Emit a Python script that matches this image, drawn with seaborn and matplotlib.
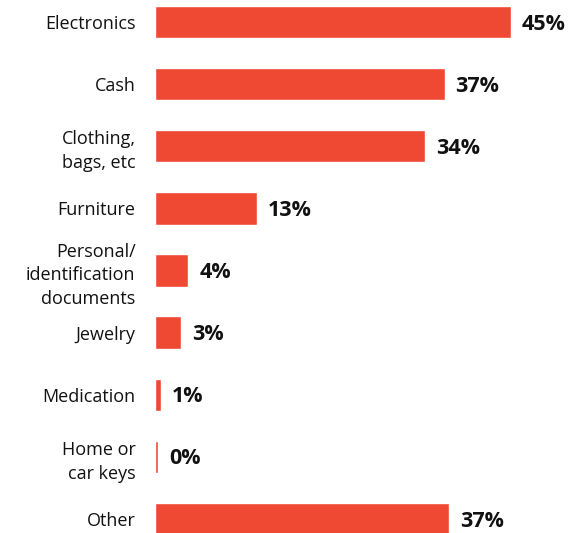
import matplotlib
matplotlib.use("Agg")
import matplotlib.pyplot as plt
import seaborn as sns
import pandas as pd

categories = ["Electronics", "Cash", "Clothing,\nbags, etc", "Furniture",
              "Personal/\nidentification\ndocuments", "Jewelry", "Medication",
              "Home or\ncar keys", "Other"]
shares = [45, 36.6, 34.1, 12.9, 4.2, 3.3, 0.7, 0.4, 37.2]

bar_color = "#EF4934"

sns.set_theme(style="white")
plt.rcParams["font.family"] = ["Open Sans", "DejaVu Sans"]

df = pd.DataFrame({"item": categories, "share": shares})

fig = plt.figure(figsize=(5.7, 5.33), dpi=100)
ax = fig.add_axes([155 / 570, 0.0, (565 - 155) / 570, 1.0])

sns.barplot(data=df, x="share", y="item", orient="h", color=bar_color,
            width=0.52, saturation=1, ax=ax)

ax.set_xlim(0, 410 / 7.91)
ax.set_ylim(8 + 14 / 62.1, -22 / 62.1)

for patch, val in zip(ax.patches, shares):
    y = patch.get_y() + patch.get_height() / 2
    ax.annotate(f"{round(val):.0f}%", xy=(patch.get_width(), y),
                xytext=(8, -1.5), textcoords="offset points",
                ha="left", va="center", fontsize=15.5, fontweight="bold",
                color="#111111")

ax.set_xlabel("")
ax.set_ylabel("")
ax.set_xticks([])
ax.tick_params(axis="y", length=0, pad=14, labelsize=13)
for lbl in ax.get_yticklabels():
    lbl.set_color("#111111")
    lbl.set_horizontalalignment("right")
    lbl.set_multialignment("right")
    lbl.set_linespacing(1.42)
for s in ax.spines.values():
    s.set_visible(False)

fig.savefig("out.png", dpi=100)
